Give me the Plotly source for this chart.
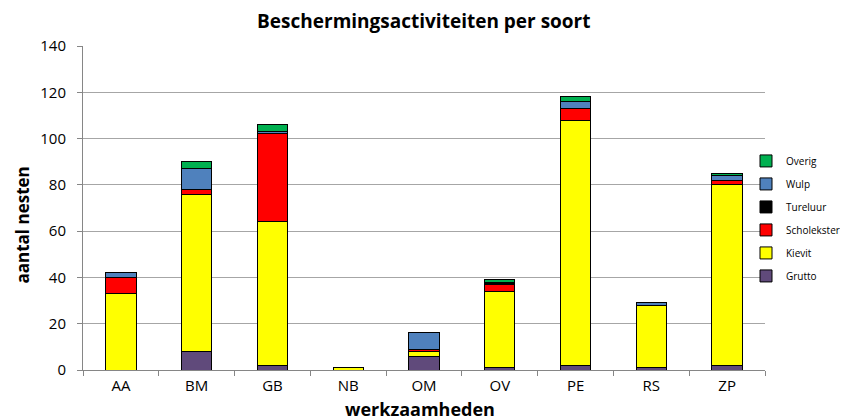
import plotly.graph_objects as go

categories = ["AA", "BM", "GB", "NB", "OM", "OV", "PE", "RS", "ZP"]
grutto      = [0, 8, 2, 0, 6, 1, 2, 1, 2]
kievit      = [33, 68, 62, 1, 2, 33, 106, 27, 78]
scholekster = [7, 2, 38, 0, 1, 3, 5, 0, 2]
tureluur    = [0, 0, 0, 0, 0, 1, 0, 0, 0]
wulp        = [2, 9, 1, 0, 7, 0, 3, 1, 2]
overig      = [0, 3, 3, 0, 0, 1, 2, 0, 1]

series = [
    ("Grutto", grutto, "#604A7B"),
    ("Kievit", kievit, "#FFFF00"),
    ("Scholekster", scholekster, "#FF0000"),
    ("Tureluur", tureluur, "#000000"),
    ("Wulp", wulp, "#4F81BD"),
    ("Overig", overig, "#00B050"),
]

font_family = "'Open Sans', Lato, sans-serif"

fig = go.Figure()
n = len(series)
for i, (name, vals, color) in enumerate(series):
    fig.add_trace(go.Bar(
        x=categories, y=vals, name=name, legendgroup=name, legendrank=n - i,
        marker=dict(color=color, line=dict(color="#000000", width=1)),
    ))

fig.update_layout(
    barmode="stack",
    bargap=0.6,
    width=840, height=412,
    margin=dict(l=75, r=83, t=38, b=50, autoexpand=False),
    paper_bgcolor="white", plot_bgcolor="white",
    font=dict(family=font_family, color="#000000"),
    title=dict(text="<b>Beschermingsactiviteiten per soort</b>", x=0.495, xanchor="center",
               xref="container", y=1 - 13 / 412, yref="container", yanchor="middle",
               font=dict(size=19)),
    legend=dict(traceorder="grouped", xref="container", yref="container",
                x=738 / 840, y=0.664, xanchor="left", yanchor="top",
                font=dict(size=10), itemwidth=30, tracegroupgap=4,
                bgcolor="rgba(0,0,0,0)"),
    showlegend=True,
    annotations=[
        dict(text="<b>aantal nesten</b>", textangle=-90, showarrow=False,
             xref="paper", yref="paper", x=(13.5 - 75) / 682, y=(362 - 217) / 324,
             xanchor="center", yanchor="middle", font=dict(size=17)),
        dict(text="<b>werkzaamheden</b>", showarrow=False,
             xref="paper", yref="paper", x=(412 - 75) / 682, y=(362 - 400.5) / 324,
             xanchor="center", yanchor="middle", font=dict(size=18)),
    ],
)
fig.update_xaxes(
    showline=True, linecolor="#868686", linewidth=1,
    ticks="outside", tickson="boundaries", ticklen=5, tickcolor="#868686",
    tickfont=dict(size=15), ticklabelstandoff=2,
    automargin=False,
)
fig.update_yaxes(
    range=[0, 140], dtick=20,
    showgrid=True, gridcolor="#A6A6A6", gridwidth=1,
    showline=True, linecolor="#868686", linewidth=1,
    ticks="outside", ticklen=5, tickcolor="#868686",
    tickfont=dict(size=15), ticklabelstandoff=8,
    zeroline=False, automargin=False,
)

fig.write_html("out.html")
